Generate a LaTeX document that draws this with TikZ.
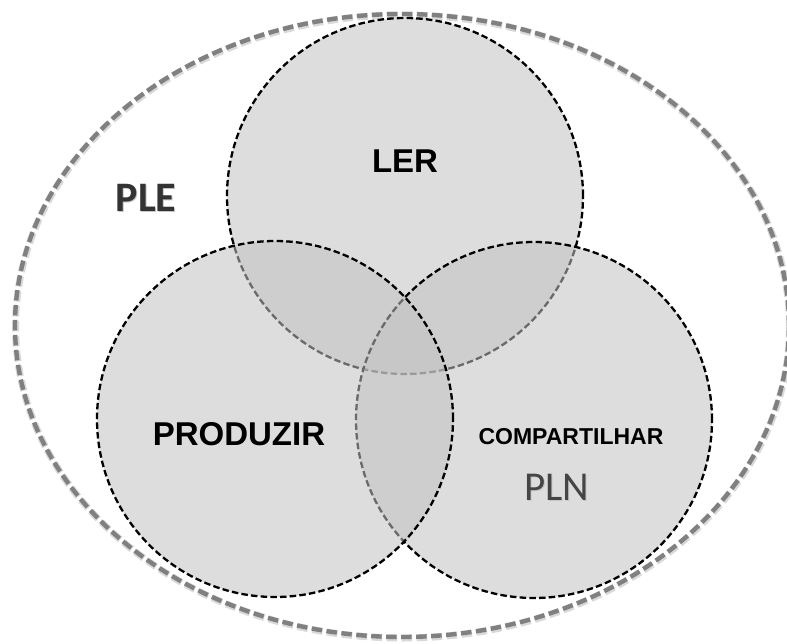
\documentclass[tikz,border=0pt]{standalone}
\usepackage{fontspec}
\setmainfont{Liberation Sans}
\newfontfamily\calib{Carlito}
\usetikzlibrary{shapes.geometric}
\definecolor{vennfill}{gray}{0.76}
\definecolor{outergray}{gray}{0.5}
\definecolor{pledark}{gray}{0.2}
\definecolor{plndark}{gray}{0.27}
\tikzset{
  venn/.style={circle, draw=black, line width=2.3pt, dash pattern=on 6.5pt off 3.2pt,
    fill=vennfill, fill opacity=0.55, draw opacity=1, text opacity=1,
    minimum size=356pt, inner sep=0pt},
  outer/.style={ellipse, draw=outergray, line width=4.4pt, dash pattern=on 10.5pt off 4.5pt,
    minimum width=774pt, minimum height=623pt, inner sep=0pt},
  outershadow/.style={ellipse, draw=gray!30, line width=7pt, dash pattern=on 10.5pt off 4.5pt,
    minimum width=774pt, minimum height=623pt, inner sep=0pt},
  bigtxt/.style={font=\bfseries\fontsize{33}{33}\selectfont, anchor=base, inner sep=0pt},
  smalltxt/.style={font=\bfseries\fontsize{23}{23}\selectfont, anchor=base, inner sep=0pt},
  ple/.style={font=\calib\bfseries\fontsize{42}{42}\selectfont, text=pledark, anchor=base, inner sep=0pt},
  pln/.style={font=\calib\fontsize{41}{41}\selectfont, text=plndark, anchor=base, inner sep=0pt},
  shadowtxt/.style={text=gray!45}
}
\begin{document}
\begin{tikzpicture}[x=1pt, y=-1pt]
\useasboundingbox (0,0) rectangle (787,644);
\fill[white] (0,0) rectangle (787,644);
% outer ellipse (PLE)
\node[outershadow] (outersh) at (402.5,326.5) {};
\node[outer] (outer) at (402,325.5) {};
% three circles
\node[venn] (ler) at (405,196) {};
\node[venn] (comp) at (534,420) {};
\node[venn] (prod) at (275,419) {};
% labels
\node[bigtxt] (tler) at (405,173) {LER};
\node[bigtxt] (tprod) at (239,445) {PRODUZIR};
\node[smalltxt] (tcomp) at (571,444) {COMPARTILHAR};
\node[ple, shadowtxt] (tplesh) at (147,213) {PLE};
\node[ple] (tple) at (146,212) {PLE};
\node[pln, shadowtxt] (tplnsh) at (558,501) {PLN};
\node[pln] (tpln) at (557,500) {PLN};
\end{tikzpicture}
\end{document}
